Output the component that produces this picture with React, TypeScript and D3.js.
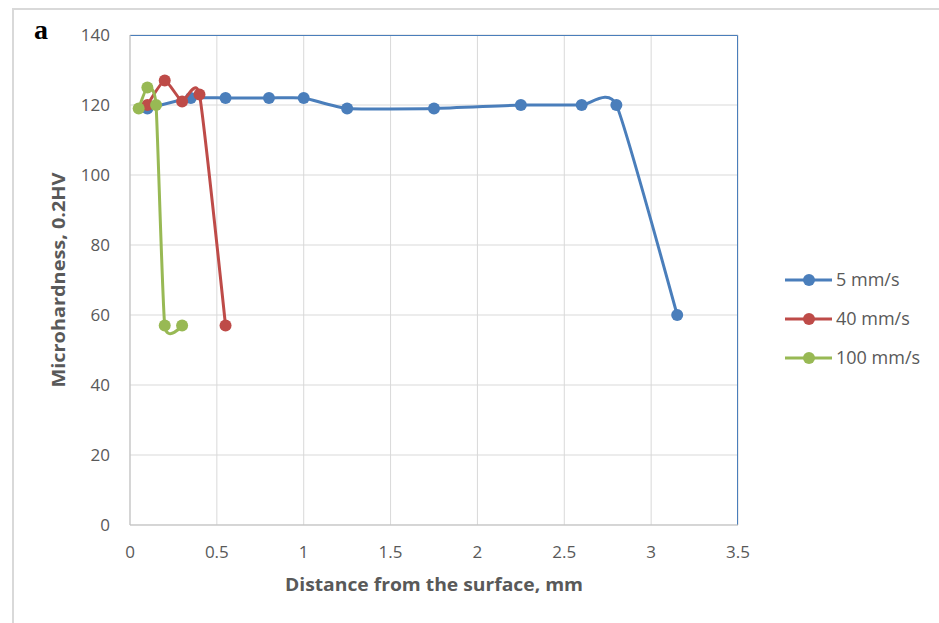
import React from "react";
import * as d3 from "d3";

// distances in mm, hardness in HV0.2
const x5 = [0.1, 0.35, 0.55, 0.8, 1.0, 1.25, 1.75, 2.25, 2.6, 2.8, 3.15];
const y5 = [119, 122, 122, 122, 122, 119, 119, 120, 120, 120, 60];
const x40 = [0.1, 0.2, 0.3, 0.4, 0.55];
const y40 = [120, 127, 121, 123, 57];
const x100 = [0.05, 0.1, 0.15, 0.2, 0.3];
const y100 = [119, 125, 120, 57, 57];

const seriesNames = ["5 mm/s", "40 mm/s", "100 mm/s"];
const seriesColors = ["#4a7ebb", "#be4b48", "#98b954"];
const xTicks = [0, 0.5, 1, 1.5, 2, 2.5, 3, 3.5];
const yTicks = [0, 20, 40, 60, 80, 100, 120, 140];

const W = 939, H = 623;
const margin = { left: 130, right: 201, top: 35, bottom: 98 };
const font = "'Open Sans', 'Noto Sans', sans-serif";

export default function App() {
  const innerW = W - margin.left - margin.right;
  const innerH = H - margin.top - margin.bottom;
  const x = d3.scaleLinear().domain([0, 3.5]).range([0, innerW]);
  const y = d3.scaleLinear().domain([0, 140]).range([innerH, 0]);

  const series = [
    { xs: x5, ys: y5 },
    { xs: x40, ys: y40 },
    { xs: x100, ys: y100 },
  ].map(s => s.xs.map((v, i) => [v, s.ys[i]] as [number, number]));

  // smoothed line, a bit tighter than plain Catmull-Rom
  const line = d3
    .line<[number, number]>()
    .x(d => x(d[0]))
    .y(d => y(d[1]))
    .curve(d3.curveCardinal.tension(0.5));

  return (
    <svg width={W} height={H} style={{ position: "absolute", left: 0, top: 0, background: "#fff" }}>
      {/* outer frame */}
      <path d={`M13,${H} V9 H${W}`} fill="none" stroke="#d9d9d9" strokeWidth={2} />
      <text x={34} y={39} fontFamily="'Liberation Serif', 'DejaVu Serif', serif" fontWeight="bold" fontSize={28}>a</text>

      <g transform={`translate(${margin.left},${margin.top})`}>
        {yTicks.map(t => (
          <line key={"gy" + t} x1={0} x2={innerW} y1={y(t)} y2={y(t)} stroke="#d9d9d9" strokeWidth={1} />
        ))}
        {xTicks.map(t => (
          <line key={"gx" + t} x1={x(t)} x2={x(t)} y1={0} y2={innerH} stroke="#d9d9d9" strokeWidth={1} />
        ))}
        {/* plot area border top/right */}
        <path d={`M0,0.5 H${innerW - 0.5} V${innerH}`} fill="none" stroke="#4a7ebb" strokeWidth={1} />
        {/* axes */}
        <line x1={0} x2={innerW} y1={innerH} y2={innerH} stroke="#bfbfbf" />
        <line x1={0} x2={0} y1={0} y2={innerH} stroke="#bfbfbf" />

        {yTicks.map(t => (
          <text key={"ty" + t} x={-20} y={y(t)} dy="0.35em" textAnchor="end" fill="#595959" fontFamily={font} fontSize={17}>
            {t}
          </text>
        ))}
        {xTicks.map(t => (
          <text key={"tx" + t} x={x(t)} y={innerH + 33} textAnchor="middle" fill="#595959" fontFamily={font} fontSize={17}>
            {t}
          </text>
        ))}

        {series.map((pts, i) => (
          <g key={"s" + i}>
            <path d={line(pts) || ""} fill="none" stroke={seriesColors[i]} strokeWidth={3} strokeLinejoin="round" />
            {pts.map((p, j) => (
              <circle key={j} cx={x(p[0])} cy={y(p[1])} r={6} fill={seriesColors[i]} />
            ))}
          </g>
        ))}

        <text
          x={innerW / 2}
          y={innerH + 66}
          textAnchor="middle"
          fill="#595959"
          fontFamily={font}
          fontWeight="bold"
          fontSize={18}
          textLength={298}
          lengthAdjust="spacingAndGlyphs"
        >
          Distance from the surface, mm
        </text>
        <text
          transform={`translate(-65,${innerH / 2}) rotate(-90)`}
          textAnchor="middle"
          fill="#595959"
          fontFamily={font}
          fontWeight="bold"
          fontSize={18}
          textLength={215}
          lengthAdjust="spacingAndGlyphs"
        >
          Microhardness, 0.2HV
        </text>
      </g>

      {/* legend */}
      {seriesNames.map((name, i) => {
        const ly = 280 + i * 39;
        return (
          <g key={"l" + i}>
            <line x1={785} x2={832} y1={ly} y2={ly} stroke={seriesColors[i]} strokeWidth={3} />
            <circle cx={809} cy={ly} r={6} fill={seriesColors[i]} />
            <text x={836} y={ly} dy="0.35em" fill="#595959" fontFamily={font} fontSize={18}>
              {name}
            </text>
          </g>
        );
      })}
    </svg>
  );
}
